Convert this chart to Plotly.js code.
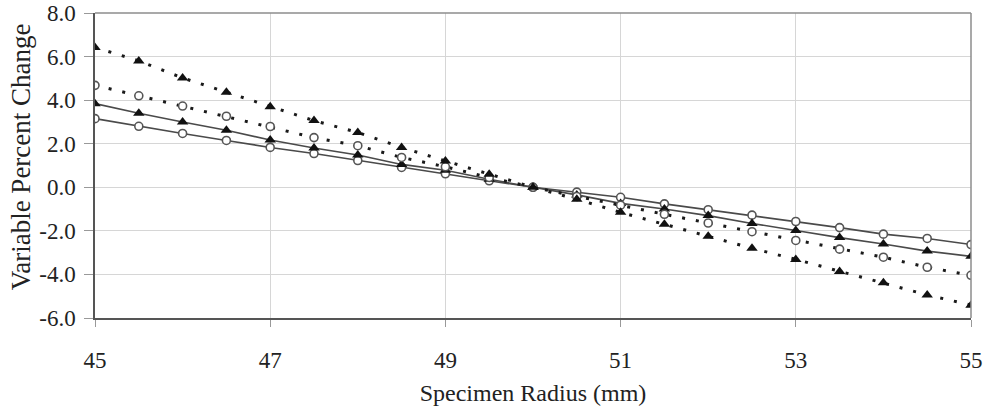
<!DOCTYPE html>
<html>
<head>
<meta charset="utf-8">
<script src="https://cdn.plot.ly/plotly-3.0.1.min.js"></script>
<style>
  html, body { margin: 0; padding: 0; background: #ffffff; }
  #chart { width: 992px; height: 412px; }
</style>
</head>
<body>
<div id="chart"></div>
<script>
// Specimen radius (mm)
const radius = [45, 45.5, 46, 46.5, 47, 47.5, 48, 48.5, 49, 49.5, 50,
                50.5, 51, 51.5, 52, 52.5, 53, 53.5, 54, 54.5, 55];

// Percent change of each variable relative to the 50 mm radius
const dottedTriangles = [6.42, 5.80, 5.02, 4.36, 3.70, 3.06, 2.52, 1.83, 1.21, 0.60, 0,
                         -0.55, -1.15, -1.70, -2.25, -2.80, -3.31, -3.86, -4.38, -4.94, -5.41];
const dottedCircles   = [4.68, 4.20, 3.73, 3.26, 2.79, 2.28, 1.91, 1.37, 0.94, 0.45, 0,
                         -0.42, -0.82, -1.24, -1.64, -2.04, -2.44, -2.84, -3.21, -3.67, -4.04];
const solidTriangles  = [3.84, 3.40, 3.00, 2.62, 2.17, 1.80, 1.48, 1.05, 0.78, 0.37, 0,
                         -0.35, -0.74, -1.00, -1.30, -1.66, -1.98, -2.31, -2.60, -2.93, -3.17];
const solidCircles    = [3.15, 2.80, 2.47, 2.15, 1.83, 1.55, 1.23, 0.91, 0.62, 0.30, 0,
                         -0.22, -0.46, -0.76, -1.03, -1.28, -1.57, -1.85, -2.15, -2.35, -2.63];

// Axis ticks
const xTicks = [45, 47, 49, 51, 53, 55];
const xTickText = ['45', '47', '49', '51', '53', '55'];
const yTicks = [-6, -4, -2, 0, 2, 4, 6, 8];
const yTickText = ['-6.0', '-4.0', '-2.0', '0.0', '2.0', '4.0', '6.0', '8.0'];

const textFont = 'Times New Roman';

const triMarker = { symbol: 'triangle-up', size: 10, color: '#111111', line: { width: 0 } };
const circMarker = { symbol: 'circle', size: 8, color: '#ffffff', line: { color: '#555555', width: 1.6 } };

const traces = [
  { x: radius, y: solidCircles, mode: 'lines+markers',
    line: { color: '#4a4a4a', width: 1.6 }, marker: circMarker },
  { x: radius, y: solidTriangles, mode: 'lines+markers',
    line: { color: '#4a4a4a', width: 1.6 }, marker: triMarker },
  { x: radius, y: dottedCircles, mode: 'lines+markers',
    line: { color: '#1a1a1a', width: 3, dash: '3px,11px' }, marker: circMarker },
  { x: radius, y: dottedTriangles, mode: 'lines+markers',
    line: { color: '#1a1a1a', width: 3, dash: '3px,11px' }, marker: triMarker }
];

const layout = {
  width: 992, height: 412,
  margin: { l: 95, r: 21, t: 13, b: 94 },
  paper_bgcolor: '#ffffff', plot_bgcolor: '#ffffff',
  showlegend: false,
  font: { family: textFont, color: '#222222', size: 23 },
  xaxis: {
    range: [45, 55],
    tickvals: xTicks, ticktext: xTickText,
    showgrid: true, gridcolor: '#d6d6d6', gridwidth: 1,
    zeroline: false,
    showline: true, linecolor: '#555555', linewidth: 1.5,
    ticks: 'outside', ticklen: 7, tickcolor: '#999999', tickwidth: 1,
    ticklabelstandoff: 14,
    tickfont: { family: textFont, size: 23, color: '#222222' },
    title: { text: 'Specimen Radius (mm)', font: { family: textFont, size: 24, color: '#222222' }, standoff: 12 }
  },
  yaxis: {
    range: [-6, 8],
    tickvals: yTicks, ticktext: yTickText,
    showgrid: true, gridcolor: '#d6d6d6', gridwidth: 1,
    zeroline: false,
    showline: true, linecolor: '#555555', linewidth: 1.5,
    ticks: 'outside', ticklen: 9, tickcolor: '#999999', tickwidth: 1,
    ticklabelstandoff: 4,
    tickfont: { family: textFont, size: 23, color: '#222222' }
  },
  annotations: [{
    text: 'Variable Percent Change',
    textangle: -90,
    xref: 'paper', yref: 'paper',
    x: -0.0845, y: 0.53,
    xanchor: 'center', yanchor: 'middle',
    showarrow: false,
    font: { family: textFont, size: 27, color: '#222222' }
  }],
  shapes: [
    { type: 'line', xref: 'paper', yref: 'paper', x0: 0, x1: 1, y0: 1, y1: 1,
      line: { color: '#8c8c8c', width: 1.5 } },
    { type: 'line', xref: 'paper', yref: 'paper', x0: 1, x1: 1, y0: 0, y1: 1,
      line: { color: '#8c8c8c', width: 1.5 } }
  ]
};

Plotly.newPlot('chart', traces, layout, { displayModeBar: false });
</script>
</body>
</html>
